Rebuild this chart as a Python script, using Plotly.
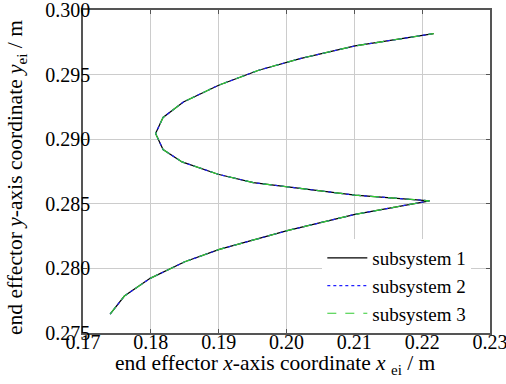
import plotly.graph_objects as go

# End-effector trajectory
x_sub1 = [0.1740, 0.1761, 0.1799, 0.1850, 0.1901, 0.1951, 0.2001, 0.2101, 0.2211,
          0.2101, 0.2001, 0.1951, 0.1899, 0.1846, 0.1818, 0.1807, 0.1818, 0.1848,
          0.1900, 0.1959, 0.2020, 0.2101, 0.2217]
y_sub1 = [0.27647, 0.27786, 0.27923, 0.28051, 0.28147, 0.28219, 0.28292, 0.28418, 0.28523,
          0.28567, 0.28631, 0.28664, 0.28729, 0.28824, 0.28920, 0.29044, 0.29168, 0.29288,
          0.29418, 0.29534, 0.29624, 0.29722, 0.29817]
x_sub2 = list(x_sub1)
y_sub2 = list(y_sub1)
x_sub3 = list(x_sub1)
y_sub3 = list(y_sub1)

names = ["subsystem 1", "subsystem 2", "subsystem 3"]
x_ticks = [0.17, 0.18, 0.19, 0.20, 0.21, 0.22, 0.23]
x_tick_text = ["0.17", "0.18", "0.19", "0.20", "0.21", "0.22", "0.23"]
y_ticks = [0.275, 0.280, 0.285, 0.290, 0.295, 0.300]
y_tick_text = ["0.275", "0.280", "0.285", "0.290", "0.295", "0.300"]
x_title = "end effector <i>x</i>-axis coordinate <i>x</i> <sub>ei</sub> / m"
y_title = "end effector <i>y</i>-axis coordinate <i>y</i><sub>ei</sub> / m"

FONT = "Liberation Serif, Times New Roman, serif"

fig = go.Figure()
fig.add_trace(go.Scatter(x=x_sub1, y=y_sub1, mode="lines", name=names[0],
                         line=dict(color="#000000", width=1.2, dash="solid")))
fig.add_trace(go.Scatter(x=x_sub2, y=y_sub2, mode="lines", name=names[1],
                         line=dict(color="#2020ff", width=1.2, dash="dot")))
fig.add_trace(go.Scatter(x=x_sub3, y=y_sub3, mode="lines", name=names[2],
                         line=dict(color="#33cc33", width=1.2, dash="dash")))

axis_common = dict(
    showline=True, linecolor="#555555", linewidth=1.5, mirror="ticks",
    ticks="inside", ticklen=4, tickcolor="#555555",
    showgrid=True, gridcolor="#cccccc", gridwidth=1,
    zeroline=False, automargin=False, ticklabeloverflow="allow",
    tickfont=dict(family=FONT, size=20, color="#000000"),
)

fig.update_layout(
    width=506, height=384,
    margin=dict(l=83, r=16, t=10, b=51, autoexpand=False),
    paper_bgcolor="white", plot_bgcolor="white",
    font=dict(family=FONT, size=19, color="#000000"),
    xaxis=dict(range=[0.17, 0.23], tickvals=x_ticks, ticktext=x_tick_text,
               ticklabelstandoff=-10, **axis_common),
    yaxis=dict(range=[0.275, 0.300], tickvals=y_ticks, ticktext=y_tick_text,
               ticklabelstandoff=-13, **axis_common),
    legend=dict(x=0.588, y=0.0, xanchor="left", yanchor="bottom",
                bgcolor="rgba(255,255,255,1)", borderwidth=0,
                font=dict(family=FONT, size=19), tracegroupgap=0,
                itemwidth=40),
    showlegend=True,
)
fig.add_annotation(text=x_title, xref="paper", yref="paper", x=0.472, y=-0.096,
                   xanchor="center", yanchor="middle", showarrow=False,
                   font=dict(family=FONT, size=21.5))
fig.add_annotation(text=y_title, xref="paper", yref="paper", x=-0.162, y=0.48,
                   xanchor="center", yanchor="middle", textangle=-90, showarrow=False,
                   font=dict(family=FONT, size=21.5))

fig.write_html("out.html", config={"displayModeBar": False},
               post_script="document.body.style.margin='0';")
